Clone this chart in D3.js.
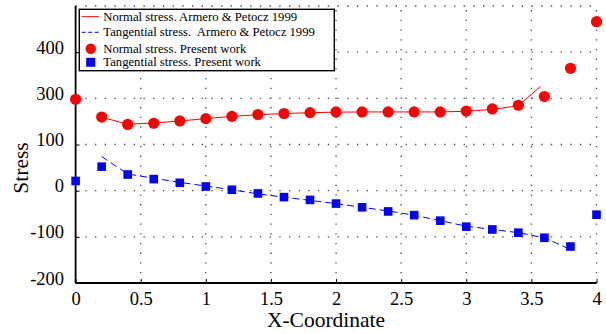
<!DOCTYPE html>
<html>
<head>
<meta charset="utf-8">
<script src="https://cdn.jsdelivr.net/npm/d3@7"></script>
<style>
  html, body { margin: 0; padding: 0; background: #fff; }
  svg { display: block; }
  svg text { font-family: "Liberation Serif", "DejaVu Serif", serif !important; fill: #000; }
</style>
</head>
<body>
<svg id="chart" width="606" height="334"></svg>
<script>
// ---- data ----
const xPresent = [0, 0.2, 0.4, 0.6, 0.8, 1.0, 1.2, 1.4, 1.6, 1.8, 2.0, 2.2, 2.4, 2.6, 2.8, 3.0, 3.2, 3.4, 3.6, 3.8, 4.0];
const normalPresent = [296, 219, 187, 192, 202, 212, 222, 230, 234, 238, 241, 241, 241, 241, 241, 245, 254, 270, 304, 365, 466];
const tangentialPresent = [21, 52, 35, 25, 17, 9, 2, -6, -14, -20, -28, -36, -45, -53, -65, -78, -84, -91, -102, -121, -52];

const xArmeroNormal = [0.2, 0.4, 0.6, 0.8, 1.0, 1.2, 1.4, 1.6, 1.8, 2.0, 2.2, 2.4, 2.6, 2.8, 3.0, 3.2, 3.4, 3.57];
const normalArmero = [218, 188, 193, 202, 212, 222, 229, 234, 238, 240, 241, 241, 241, 241, 244, 252, 268, 326];
const xArmeroTangential = [0.2, 0.4, 0.6, 0.8, 1.0, 1.2, 1.4, 1.6, 1.8, 2.0, 2.2, 2.4, 2.6, 2.8, 3.0, 3.2, 3.4, 3.6, 3.78];
const tangentialArmero = [74, 36, 27, 18, 10, 2, -7, -14, -21, -28, -36, -44, -53, -65, -77, -84, -91, -102, -125];

const xTickValues = [0, 0.5, 1, 1.5, 2, 2.5, 3, 3.5, 4];
const xTickLabels = ["0", "0.5", "1", "1.5", "2", "2.5", "3", "3.5", "4"];
const yTickValues = [-200, -100, 0, 100, 300, 400];
const yTickLabels = ["-200", "-100", "0", "100", "300", "400"];
const yGridValues = [-200, -100, 0, 100, 300, 400, 500];

const legendLabels = [
  "Normal stress. Armero & Petocz 1999",
  "Tangential stress.  Armero & Petocz 1999",
  "Normal stress. Present work",
  "Tangential stress. Present work"
];

// ---- layout ----
const plotLeft = 75.6, plotRight = 596.5, plotBottom = 283, plotTop = 6;
const serif = "'Liberation Serif', 'DejaVu Serif', serif";
const svg = d3.select("#chart");

const x = d3.scaleLinear().domain([0, 4]).range([plotLeft, plotRight]);
const step = (plotBottom - plotTop) / (yGridValues.length - 1);
const y = d3.scaleLinear()
  .domain(yGridValues)
  .range(yGridValues.map((d, i) => plotBottom - i * step));

// grid (dotted)
const grid = svg.append("g").attr("stroke", "#444").attr("stroke-width", 1.3)
  .attr("stroke-dasharray", "1.3,8.4").attr("fill", "none");
yGridValues.filter(v => v !== -200).forEach(v => {
  grid.append("line").attr("x1", plotLeft).attr("x2", plotRight).attr("y1", y(v)).attr("y2", y(v));
});
xTickValues.filter(v => v !== 0).forEach(v => {
  grid.append("line").attr("x1", x(v)).attr("x2", x(v)).attr("y1", plotBottom).attr("y2", plotTop);
});

// axes
const xAxis = d3.axisBottom(x).tickValues(xTickValues).tickSize(-4)
  .tickFormat((d, i) => xTickLabels[i]);
const gx = svg.append("g").attr("transform", `translate(0,${plotBottom})`).call(xAxis)
  .attr("font-family", serif).attr("font-size", 18.5);
gx.select(".domain").attr("stroke", "#000").attr("stroke-width", 1.8).attr("d", `M${plotLeft},0H${plotRight}`);
gx.selectAll(".tick line").attr("stroke", "#000").attr("stroke-width", 1);
gx.selectAll(".tick text").style("font-family", serif).style("font-size", "18.5px")
  .attr("dy", null).attr("y", 21.7);

const yAxis = d3.axisLeft(y).tickValues(yTickValues).tickSize(-4)
  .tickFormat((d, i) => yTickLabels[i]);
const gy = svg.append("g").attr("transform", `translate(${plotLeft},0)`).call(yAxis)
  .attr("font-family", serif).attr("font-size", 18.5);
gy.select(".domain").attr("stroke", "#000").attr("stroke-width", 1.8).attr("d", `M0,${plotBottom}V${plotTop}`);
gy.selectAll(".tick line").attr("stroke", "#000").attr("stroke-width", 1);
gy.selectAll(".tick text").style("font-family", serif).style("font-size", "18.5px")
  .attr("dy", null).attr("y", 1).attr("x", -11.5);

// axis titles
svg.append("text").attr("x", 326).attr("y", 327).attr("text-anchor", "middle")
  .style("font-family", serif).style("font-size", "21.5px").text("X-Coordinate");
svg.append("text").attr("transform", "translate(28,168) rotate(-90)").attr("text-anchor", "middle")
  .style("font-family", serif).style("font-size", "21.5px").text("Stress");

// lines (reference)
const line = d3.line().x(d => x(d[0])).y(d => y(d[1]));
svg.append("path").datum(d3.zip(xArmeroNormal, normalArmero))
  .attr("d", line).attr("fill", "none").attr("stroke", "#ff0000").attr("stroke-width", 1);
svg.append("path").datum(d3.zip(xArmeroTangential, tangentialArmero))
  .attr("d", line).attr("fill", "none").attr("stroke", "#0000ff").attr("stroke-width", 1)
  .attr("stroke-dasharray", "7,4");

// markers (present work)
svg.append("g").selectAll("circle").data(d3.zip(xPresent, normalPresent)).join("circle")
  .attr("cx", d => x(d[0])).attr("cy", d => y(d[1])).attr("r", 5.6).attr("fill", "#ff0000");
svg.append("g").selectAll("rect").data(d3.zip(xPresent, tangentialPresent)).join("rect")
  .attr("x", d => x(d[0]) - 4.3).attr("y", d => y(d[1]) - 4.3)
  .attr("width", 8.6).attr("height", 8.6).attr("fill", "#0000ff");

// legend
const lg = svg.append("g");
lg.append("rect").attr("x", 79.3).attr("y", 9.3).attr("width", 255).attr("height", 61.4)
  .attr("fill", "#fff").attr("stroke", "#000").attr("stroke-width", 1.4);
const rowY = [16.7, 32.3, 48.7, 62.3];
lg.append("line").attr("x1", 81.7).attr("x2", 99).attr("y1", rowY[0]).attr("y2", rowY[0])
  .attr("stroke", "#ff0000").attr("stroke-width", 1);
lg.append("line").attr("x1", 81.7).attr("x2", 99).attr("y1", rowY[1]).attr("y2", rowY[1])
  .attr("stroke", "#0000ff").attr("stroke-width", 1).attr("stroke-dasharray", "4,2.5");
lg.append("circle").attr("cx", 90.7).attr("cy", rowY[2]).attr("r", 5.2).attr("fill", "#ff0000");
lg.append("rect").attr("x", 86.2).attr("y", rowY[3] - 4.5).attr("width", 9).attr("height", 9).attr("fill", "#0000ff");
lg.selectAll("text.lbl").data(legendLabels).join("text").attr("class", "lbl")
  .attr("x", 103.3).attr("y", (d, i) => rowY[i] + 4.1)
  .style("font-family", serif).style("font-size", "12.7px").style("white-space", "pre").text(d => d);
</script>
</body>
</html>
